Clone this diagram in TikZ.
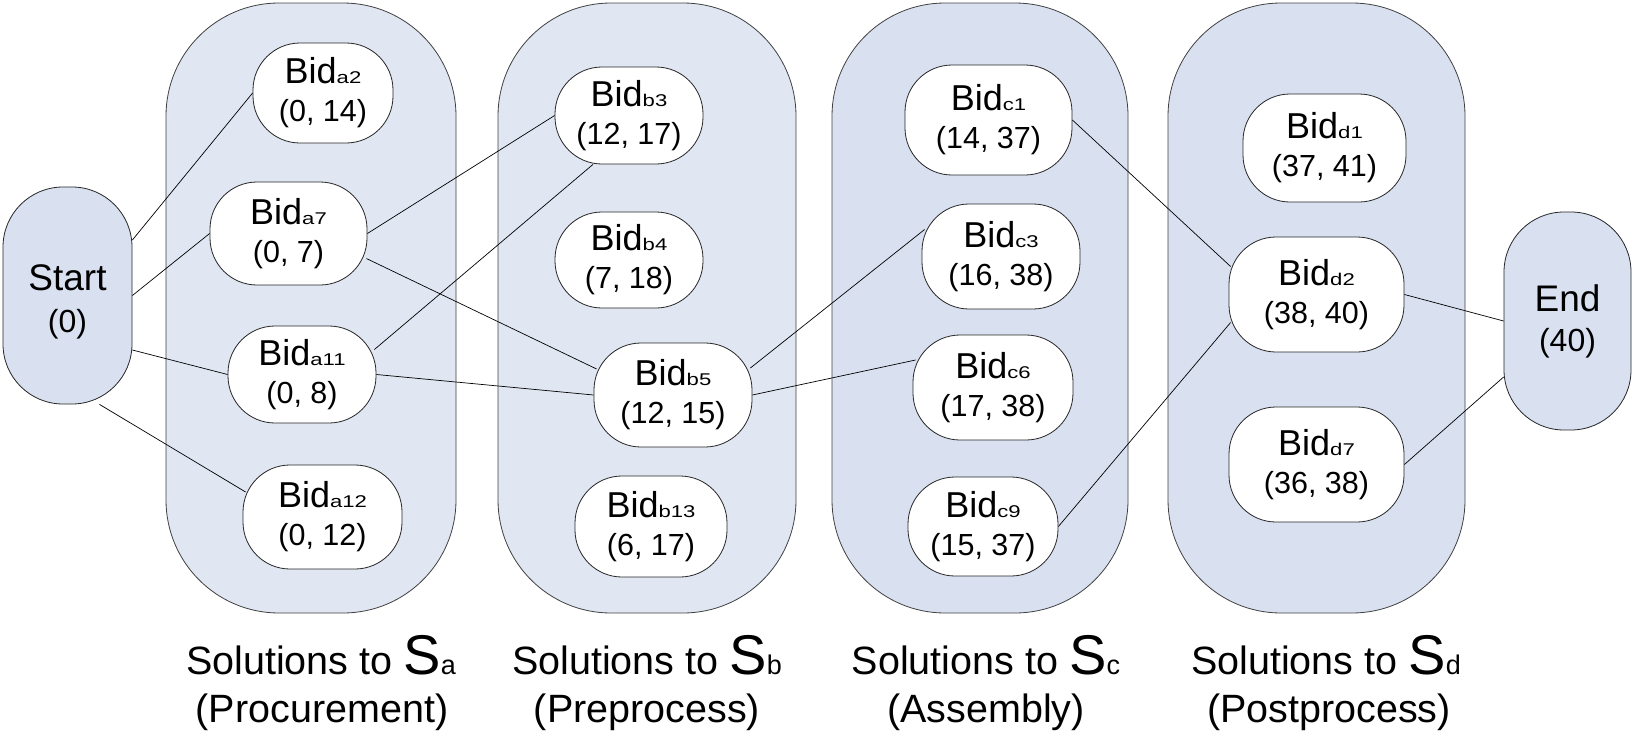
\documentclass[tikz,border=0pt]{standalone}
\usepackage{fontspec}
\usepackage{graphicx}
\setmainfont{Liberation Sans}
\usetikzlibrary{calc}

\newcommand{\fs}[2]{\fontsize{#1}{#2}\selectfont}
% bid label: "Bid" with a small index on the same baseline, then the time window
\newcommand{\bidtext}[2]{Bid{\fs{17}{38}\scalebox{1.3}[1]{#1}}\\{\fs{30.5}{38}#2}}
% caption: "Solutions to S_x"
\newcommand{\soltext}[1]{Solutions to {\fs{56}{56}S}{\fs{27}{27}#1}}

\definecolor{grpLight}{RGB}{224,231,242}
\definecolor{grpDark}{RGB}{217,225,241}
\definecolor{termBlue}{RGB}{217,225,241}

\tikzset{
  grp/.style={draw=black!75, line width=0.8pt, rounded corners=113pt, inner sep=0pt},
  bid/.style={draw=black!85, line width=0.8pt, fill=white, rounded corners=47pt,
              inner sep=0pt, align=center, font=\fs{36}{38}},
  term/.style={draw=black!85, line width=0.8pt, fill=termBlue, rounded corners=60pt,
               inner sep=0pt, align=center},
  link/.style={line width=0.7pt, draw=black},
  captext/.style={anchor=base, inner sep=0pt, font=\fs{39.5}{44}},
}

\begin{document}
\begin{tikzpicture}[x=1pt, y=-1pt]
\useasboundingbox (0,0) rectangle (1633,736);

% solution groups
\node[grp, fill=grpLight, minimum width=290pt, minimum height=610pt] (colA) at (311,308) {};
\node[grp, fill=grpLight, minimum width=298pt, minimum height=610pt] (colB) at (647,308) {};
\node[grp, fill=grpDark,  minimum width=296pt, minimum height=610pt] (colC) at (980,308) {};
\node[grp, fill=grpDark,  minimum width=297pt, minimum height=610pt] (colD) at (1316.5,308) {};

% start and end (the strut lowers the two lines a little inside Start)
\node[term, font=\fs{37}{42}, minimum width=129pt, minimum height=217pt] (start) at (67.5,295.5)
  {\rule{0pt}{38pt}Start\\{\fs{32}{42}(0)}};
\node[term, font=\fs{37}{40}, minimum width=127pt, minimum height=218pt] (end) at (1567.5,321)
  {End\\{\fs{32}{40}(40)}};

% procurement bids
\node[bid, minimum width=140pt, minimum height=100pt] (a2)  at (323,93)      {\bidtext{a2}{(0, 14)}};
\node[bid, minimum width=157pt, minimum height=103pt] (a7)  at (288.5,233.5) {\bidtext{a7}{(0, 7)}};
\node[bid, minimum width=148pt, minimum height=97pt]  (a11) at (302,374.5)   {\bidtext{a11}{(0, 8)}};
\node[bid, minimum width=159pt, minimum height=104pt] (a12) at (322.5,517)   {\bidtext{a12}{(0, 12)}};

% preprocess bids
\node[bid, minimum width=148pt, minimum height=97pt]  (b3)  at (629,115.5)   {\bidtext{b3}{(12, 17)}};
\node[bid, minimum width=148pt, minimum height=96pt]  (b4)  at (629,260)     {\bidtext{b4}{(7, 18)}};
\node[bid, minimum width=158pt, minimum height=104pt] (b5)  at (673,395)     {\bidtext{b5}{(12, 15)}};
\node[bid, minimum width=152pt, minimum height=101pt] (b13) at (651,526.5)   {\bidtext{b13}{(6, 17)}};

% assembly bids
\node[bid, minimum width=167pt, minimum height=110pt] (c1)  at (988.5,120)   {\bidtext{c1}{(14, 37)}};
\node[bid, minimum width=158pt, minimum height=105pt] (c3)  at (1001,256.5)  {\bidtext{c3}{(16, 38)}};
\node[bid, minimum width=160pt, minimum height=105pt] (c6)  at (993,387.5)   {\bidtext{c6}{(17, 38)}};
\node[bid, minimum width=150pt, minimum height=99pt]  (c9)  at (983,526.5)   {\bidtext{c9}{(15, 37)}};

% postprocess bids
\node[bid, minimum width=163pt, minimum height=108pt] (d1)  at (1324.5,148)  {\bidtext{d1}{(37, 41)}};
\node[bid, minimum width=175pt, minimum height=115pt] (d2)  at (1316.5,294.5){\bidtext{d2}{(38, 40)}};
\node[bid, minimum width=175pt, minimum height=115pt] (d7)  at (1316.5,464.5){\bidtext{d7}{(36, 38)}};

% connections
\draw[link] ($(start.east)+(0,-55.5)$) -- (a2.west);
\draw[link] (start.east) -- (a7.west);
\draw[link] ($(start.east)+(0,54.5)$) -- (a11.west);
\draw[link] ($(start.south)+(32,0)$) -- ($(a12.west)+(3,-25)$);

\draw[link] (a7.east) -- (b3.west);
\draw[link] ($(a7.east)+(-1,25)$) -- ($(b5.west)+(3,-26)$);
\draw[link] ($(a11.east)+(-2,-25)$) -- ($(b3.south)+(-36,0)$);
\draw[link] (a11.east) -- (b5.west);

\draw[link] ($(b5.east)+(-2,-27)$) -- ($(c3.west)+(3,-27)$);
\draw[link] (b5.east) -- ($(c6.west)+(3,-27.5)$);

\draw[link] (c1.east) -- ($(d2.west)+(2,-28)$);
\draw[link] (c9.east) -- ($(d2.west)+(2,28)$);

\draw[link] (d2.east) -- (end.west);
\draw[link] (d7.east) -- ($(end.west)+(0,56)$);

% captions
\node[captext] (capA1) at (321,674)  {\soltext{a}};
\node[captext] (capA2) at (322,722)  {(Procurement)};
\node[captext] (capB1) at (647,674)  {\soltext{b}};
\node[captext] (capB2) at (647,722)  {(Preprocess)};
\node[captext] (capC1) at (986,674)  {\soltext{c}};
\node[captext] (capC2) at (986,722)  {(Assembly)};
\node[captext] (capD1) at (1326,674) {\soltext{d}};
\node[captext] (capD2) at (1329,722) {(Postprocess)};
\end{tikzpicture}
\end{document}
